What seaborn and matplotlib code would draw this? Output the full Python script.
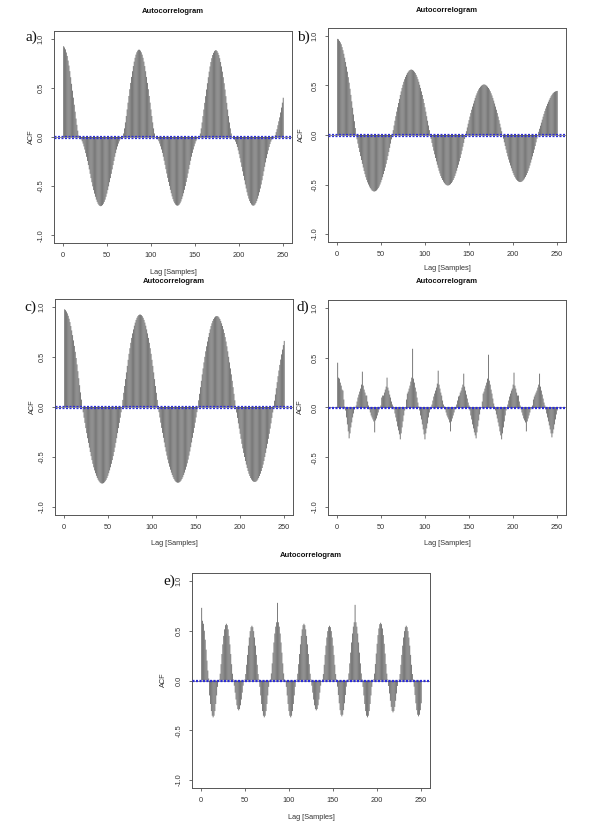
import numpy as np
import pandas as pd
import matplotlib
matplotlib.use("Agg")
import matplotlib.pyplot as plt
import seaborn as sns

# ---------------- data ----------------
panel_labels = ["a)", "b)", "c)", "d)", "e)"]
title_text = "Autocorrelogram"
x_label = "Lag [Samples]"
y_label = "ACF"
x_ticks = [0, 50, 100, 150, 200, 250]
y_ticks = [-1.0, -0.5, 0.0, 0.5, 1.0]
y_tick_labels = ["-1.0", "-0.5", "0.0", "0.5", "1.0"]

acf_a = [
    0.925, 0.912, 0.893, 0.861, 0.826, 0.779, 0.728, 0.671, 0.609, 0.542, 0.472, 0.401, 0.329, 0.258, 0.188, 0.124, 0.065, 0.015,
    -0.003, -0.011, -0.025, -0.044, -0.067, -0.096, -0.128, -0.164, -0.202, -0.244, -0.286, -0.33, -0.375, -0.419, -0.461, -0.503, -0.541, -0.577, -0.609, -0.638, -0.661, -0.68, -0.694, -0.702, -0.705,
    -0.702, -0.694, -0.68, -0.661, -0.638, -0.609, -0.577, -0.541, -0.503, -0.461, -0.419, -0.375, -0.33, -0.286, -0.244, -0.202, -0.164, -0.128, -0.096, -0.067, -0.044, -0.025, -0.011, -0.003,
    0.0,
    0.036, 0.088, 0.149, 0.214, 0.281, 0.35, 0.418, 0.487, 0.551, 0.612, 0.67, 0.723, 0.768, 0.807, 0.839, 0.863, 0.88, 0.889,
    0.889, 0.88, 0.863, 0.839, 0.807, 0.768, 0.723, 0.67, 0.612, 0.551, 0.487, 0.418, 0.35, 0.281, 0.214, 0.149, 0.088, 0.036,
    0.0,
    -0.003, -0.011, -0.025, -0.043, -0.067, -0.095, -0.127, -0.162, -0.201, -0.242, -0.284, -0.328, -0.372, -0.416, -0.458, -0.499, -0.538, -0.573, -0.605, -0.633, -0.657, -0.675, -0.689, -0.697, -0.70,
    -0.697, -0.689, -0.675, -0.657, -0.633, -0.605, -0.573, -0.538, -0.499, -0.458, -0.416, -0.372, -0.328, -0.284, -0.242, -0.201, -0.162, -0.127, -0.095, -0.067, -0.043, -0.025, -0.011, -0.003,
    0.0,
    0.036, 0.088, 0.148, 0.213, 0.28, 0.348, 0.416, 0.484, 0.548, 0.609, 0.666, 0.719, 0.764, 0.803, 0.835, 0.858, 0.875, 0.884,
    0.884, 0.875, 0.858, 0.835, 0.803, 0.764, 0.719, 0.666, 0.609, 0.548, 0.484, 0.416, 0.348, 0.28, 0.213, 0.148, 0.088, 0.036,
    0.0,
    -0.003, -0.012, -0.027, -0.047, -0.072, -0.102, -0.137, -0.175, -0.216, -0.259, -0.304, -0.35, -0.396, -0.441, -0.484, -0.525, -0.563, -0.598, -0.628, -0.653, -0.673, -0.688, -0.697, -0.70,
    -0.697, -0.688, -0.673, -0.653, -0.628, -0.598, -0.563, -0.525, -0.484, -0.441, -0.396, -0.35, -0.304, -0.259, -0.216, -0.175, -0.137, -0.102, -0.072, -0.047, -0.027, -0.012, -0.003,
    0.0,
    0.02, 0.05, 0.08, 0.12, 0.16, 0.2, 0.25, 0.3, 0.35, 0.40,
]

acf_b = [
    0.97, 0.965, 0.95, 0.935, 0.916, 0.887, 0.856, 0.82, 0.78, 0.737, 0.69, 0.639, 0.584, 0.528, 0.467, 0.405, 0.34, 0.275, 0.207, 0.139, 0.07,
    0.0,
    -0.044, -0.087, -0.13, -0.172, -0.213, -0.253, -0.291, -0.328, -0.363, -0.395, -0.426, -0.453, -0.478, -0.50, -0.52, -0.536, -0.549, -0.56, -0.566, -0.57,
    -0.57, -0.566, -0.56, -0.549, -0.536, -0.52, -0.50, -0.478, -0.453, -0.426, -0.395, -0.363, -0.328, -0.291, -0.253, -0.213, -0.172, -0.13, -0.087, -0.044,
    0.0,
    0.049, 0.096, 0.144, 0.19, 0.236, 0.28, 0.323, 0.364, 0.404, 0.44, 0.475, 0.507, 0.537, 0.563, 0.587, 0.607, 0.625, 0.638, 0.649, 0.656, 0.66,
    0.66, 0.656, 0.649, 0.638, 0.625, 0.607, 0.587, 0.563, 0.537, 0.507, 0.475, 0.44, 0.404, 0.364, 0.323, 0.28, 0.236, 0.19, 0.144, 0.096, 0.049,
    0.0,
    -0.04, -0.08, -0.119, -0.158, -0.195, -0.232, -0.266, -0.30, -0.331, -0.361, -0.388, -0.413, -0.435, -0.454, -0.471, -0.485, -0.496, -0.504, -0.508, -0.51,
    -0.508, -0.504, -0.496, -0.485, -0.471, -0.454, -0.435, -0.413, -0.388, -0.361, -0.331, -0.30, -0.266, -0.232, -0.195, -0.158, -0.119, -0.08, -0.04,
    0.0,
    0.038, 0.076, 0.114, 0.15, 0.186, 0.221, 0.255, 0.287, 0.318, 0.347, 0.374, 0.399, 0.421, 0.442, 0.46, 0.475, 0.487, 0.497, 0.504, 0.509, 0.51,
    0.509, 0.504, 0.497, 0.487, 0.475, 0.46, 0.442, 0.421, 0.399, 0.374, 0.347, 0.318, 0.287, 0.255, 0.221, 0.186, 0.15, 0.114, 0.076, 0.038,
    0.0,
    -0.037, -0.074, -0.111, -0.147, -0.182, -0.216, -0.248, -0.279, -0.308, -0.336, -0.361, -0.384, -0.405, -0.423, -0.439, -0.452, -0.462, -0.469, -0.474, -0.475,
    -0.474, -0.469, -0.462, -0.452, -0.439, -0.423, -0.405, -0.384, -0.361, -0.336, -0.308, -0.279, -0.248, -0.216, -0.182, -0.147, -0.111, -0.074, -0.037,
    0.0,
    0.032, 0.063, 0.094, 0.125, 0.155, 0.185, 0.213, 0.241, 0.267, 0.291, 0.315, 0.336, 0.356, 0.374, 0.391, 0.405, 0.418, 0.427, 0.435, 0.44, 0.444, 0.445,
]

acf_c = [
    0.977, 0.969, 0.955, 0.936, 0.912, 0.883, 0.849, 0.81, 0.766, 0.719, 0.666, 0.611, 0.552, 0.49, 0.426, 0.358, 0.288, 0.218, 0.146, 0.074,
    0.0,
    -0.053, -0.107, -0.159, -0.211, -0.261, -0.312, -0.359, -0.406, -0.45, -0.491, -0.531, -0.568, -0.603, -0.634, -0.662, -0.688, -0.71, -0.728, -0.742, -0.753, -0.761, -0.765,
    -0.765, -0.761, -0.753, -0.742, -0.728, -0.71, -0.688, -0.662, -0.634, -0.603, -0.568, -0.531, -0.491, -0.45, -0.406, -0.359, -0.312, -0.261, -0.211, -0.159, -0.107, -0.053,
    0.0,
    0.071, 0.142, 0.21, 0.279, 0.346, 0.411, 0.472, 0.532, 0.588, 0.642, 0.691, 0.736, 0.776, 0.813, 0.844, 0.871, 0.892, 0.908, 0.919, 0.924,
    0.924, 0.919, 0.908, 0.892, 0.871, 0.844, 0.813, 0.776, 0.736, 0.691, 0.642, 0.588, 0.532, 0.472, 0.411, 0.346, 0.279, 0.21, 0.142, 0.071,
    0.0,
    -0.052, -0.105, -0.157, -0.209, -0.259, -0.308, -0.355, -0.402, -0.445, -0.486, -0.526, -0.563, -0.597, -0.627, -0.656, -0.68, -0.702, -0.72, -0.735, -0.746, -0.753, -0.757,
    -0.757, -0.753, -0.746, -0.735, -0.72, -0.702, -0.68, -0.656, -0.627, -0.597, -0.563, -0.526, -0.486, -0.445, -0.402, -0.355, -0.308, -0.259, -0.209, -0.157, -0.105, -0.052,
    0.0,
    0.067, 0.132, 0.198, 0.262, 0.326, 0.386, 0.446, 0.502, 0.557, 0.607, 0.655, 0.699, 0.74, 0.777, 0.81, 0.837, 0.861, 0.88, 0.895, 0.905, 0.909,
    0.909, 0.905, 0.895, 0.88, 0.861, 0.837, 0.81, 0.777, 0.74, 0.699, 0.655, 0.607, 0.557, 0.502, 0.446, 0.386, 0.326, 0.262, 0.198, 0.132, 0.067,
    0.0,
    -0.055, -0.109, -0.164, -0.216, -0.268, -0.318, -0.368, -0.414, -0.459, -0.5, -0.54, -0.576, -0.61, -0.64, -0.667, -0.69, -0.71, -0.726, -0.738, -0.746, -0.749,
    -0.749, -0.746, -0.738, -0.726, -0.71, -0.69, -0.667, -0.64, -0.61, -0.576, -0.54, -0.5, -0.459, -0.414, -0.368, -0.318, -0.268, -0.216, -0.164, -0.109, -0.055,
    0.0,
    0.063, 0.125, 0.188, 0.248, 0.308, 0.365, 0.421, 0.474, 0.526, 0.574, 0.619, 0.661,
]

acf_d = [
    0.45, 0.30, 0.29, 0.25, 0.22, 0.18, 0.17, 0.08, 0.01,
    -0.03, -0.10, -0.17, -0.24, -0.31, -0.26, -0.20, -0.15, -0.10, -0.06, -0.02, 0.00,
    0.02, 0.06, 0.10, 0.13, 0.16, 0.19, 0.23, 0.36, 0.22, 0.18, 0.15, 0.12, 0.12, 0.06, 0.02,
    -0.02, -0.05, -0.08, -0.10, -0.12, -0.14, -0.25, -0.13, -0.11, -0.08, -0.05, -0.02, 0.00,
    0.02, 0.10, 0.12, 0.12, 0.15, 0.18, 0.21, 0.30, 0.20, 0.17, 0.13, 0.10, 0.06, 0.03, 0.01,
    -0.02, -0.06, -0.10, -0.14, -0.19, -0.23, -0.27, -0.32, -0.26, -0.20, -0.14, -0.08, -0.03, 0.00,
    0.08, 0.14, 0.16, 0.19, 0.22, 0.26, 0.30, 0.59, 0.29, 0.25, 0.20, 0.16, 0.10, 0.05, 0.01,
    -0.03, -0.08, -0.12, -0.17, -0.22, -0.27, -0.32, -0.26, -0.21, -0.16, -0.10, -0.05, -0.02, 0.00,
    0.03, 0.07, 0.11, 0.14, 0.17, 0.20, 0.24, 0.37, 0.23, 0.19, 0.15, 0.12, 0.07, 0.03, 0.01,
    -0.02, -0.05, -0.08, -0.10, -0.12, -0.15, -0.24, -0.14, -0.11, -0.08, -0.05, -0.02, 0.00,
    0.03, 0.07, 0.11, 0.12, 0.15, 0.17, 0.20, 0.23, 0.34, 0.21, 0.17, 0.13, 0.09, 0.05, 0.02,
    -0.03, -0.08, -0.12, -0.17, -0.21, -0.25, -0.28, -0.31, -0.25, -0.19, -0.13, -0.07, -0.02, 0.00,
    0.06, 0.14, 0.16, 0.19, 0.22, 0.25, 0.29, 0.53, 0.27, 0.23, 0.18, 0.14, 0.09, 0.04, 0.01,
    -0.03, -0.07, -0.11, -0.15, -0.19, -0.24, -0.28, -0.32, -0.26, -0.20, -0.14, -0.08, -0.03, 0.00,
    0.03, 0.07, 0.11, 0.14, 0.17, 0.19, 0.23, 0.35, 0.22, 0.19, 0.15, 0.12, 0.12, 0.06, 0.02,
    -0.02, -0.05, -0.08, -0.11, -0.13, -0.15, -0.24, -0.14, -0.11, -0.08, -0.05, -0.02, 0.00,
    0.02, 0.08, 0.11, 0.13, 0.15, 0.17, 0.20, 0.23, 0.34, 0.21, 0.17, 0.13, 0.09, 0.05, 0.02,
    -0.02, -0.06, -0.10, -0.14, -0.18, -0.22, -0.26, -0.30, -0.26, -0.22, -0.17, -0.12, -0.07, -0.03,
]

acf_e = [
    0.73, 0.60, 0.57, 0.50, 0.41, 0.31, 0.20, 0.10, 0.02,
    -0.15, -0.236, -0.307, -0.354, -0.37, -0.354, -0.307, -0.236, -0.15, -0.064, 0.0,
    0.01, 0.068, 0.164, 0.266, 0.363, 0.448, 0.514, 0.556, 0.57, 0.556, 0.514, 0.448, 0.363, 0.266, 0.164, 0.068, 0.01,
    -0.052, -0.122, -0.191, -0.249, -0.287, -0.30, -0.287, -0.249, -0.191, -0.122, -0.052, 0.0,
    0.01, 0.065, 0.158, 0.257, 0.35, 0.432, 0.496, 0.536, 0.55, 0.536, 0.496, 0.432, 0.35, 0.257, 0.158, 0.065, 0.01,
    -0.064, -0.15, -0.236, -0.307, -0.354, -0.37, -0.354, -0.307, -0.236, -0.15, -0.064, 0.0,
    0.01, 0.071, 0.172, 0.28, 0.382, 0.472, 0.541, 0.585, 0.78, 0.585, 0.541, 0.472, 0.382, 0.28, 0.172, 0.071, 0.01,
    0.0, -0.064, -0.15, -0.236, -0.307, -0.354, -0.37, -0.354, -0.307, -0.236, -0.15, -0.064, 0.0,
    0.01, 0.068, 0.164, 0.266, 0.363, 0.448, 0.514, 0.556, 0.57, 0.556, 0.514, 0.448, 0.363, 0.266, 0.164, 0.068, 0.01,
    -0.052, -0.122, -0.191, -0.249, -0.287, -0.30, -0.287, -0.249, -0.191, -0.122, -0.052, 0.0,
    0.01, 0.065, 0.158, 0.257, 0.35, 0.432, 0.496, 0.536, 0.55, 0.536, 0.496, 0.432, 0.35, 0.257, 0.158, 0.065, 0.01,
    -0.062, -0.146, -0.229, -0.298, -0.344, -0.36, -0.344, -0.298, -0.229, -0.146, -0.062, 0.0,
    0.01, 0.071, 0.172, 0.28, 0.382, 0.472, 0.541, 0.585, 0.76, 0.585, 0.541, 0.472, 0.382, 0.28, 0.172, 0.071, 0.01,
    -0.064, -0.15, -0.236, -0.307, -0.354, -0.37, -0.354, -0.307, -0.236, -0.15, -0.064, 0.0,
    0.01, 0.069, 0.166, 0.271, 0.369, 0.456, 0.523, 0.566, 0.58, 0.566, 0.523, 0.456, 0.369, 0.271, 0.166, 0.069, 0.01,
    -0.055, -0.13, -0.204, -0.265, -0.306, -0.32, -0.306, -0.265, -0.204, -0.13, -0.055, 0.0,
    0.01, 0.065, 0.158, 0.257, 0.35, 0.432, 0.496, 0.536, 0.55, 0.536, 0.496, 0.432, 0.35, 0.257, 0.158, 0.065, 0.01,
    -0.062, -0.146, -0.229, -0.298, -0.344, -0.36, -0.344, -0.298, -0.229,
]

series = [acf_a, acf_b, acf_c, acf_d, acf_e]

# ---------------- layout (pixel boxes: left, top, right, bottom) ----------------
W, H = 591, 821
boxes = [(54, 31, 292, 243), (328, 28, 566, 242), (55, 299, 293, 515),
         (328, 300, 566, 515), (192, 573, 430, 788)]
title_pos = [(173, 11.5), (447, 10), (174, 281), (447, 281), (311, 555)]
xlab_pos = [(173, 272), (447, 268), (174, 543), (447, 543), (311, 817)]
ylab_pos = [(31.5, 137), (301, 135), (32, 407), (300, 407), (163, 680)]
plab_pos = [(31, 37), (303.5, 37), (30, 307), (302.5, 307.5), (169, 581)]

sns.set_theme(style="ticks")
plt.rcParams["font.family"] = ["Liberation Sans", "DejaVu Sans"]

BAR = "#6c6c6c"
BLUE = "#2b2bd9"
SPINE = "#555555"

fig = plt.figure(figsize=(W / 100, H / 100), dpi=100)
fig.patch.set_facecolor("white")


def fx(x):
    return x / W


def fy(y):
    return 1 - y / H


for i, vals in enumerate(series):
    l, t, r, b = boxes[i]
    ax = fig.add_axes([fx(l), fy(b), (r - l) / W, (b - t) / H])
    df = pd.DataFrame({"lag": np.arange(1, len(vals) + 1), "acf": vals})
    sns.barplot(data=df, x="lag", y="acf", native_scale=True, color=BAR,
                saturation=1, width=1.0, linewidth=0, errorbar=None, ax=ax)
    for p in ax.patches:
        p.set_snap(False)
        p.set_antialiased(True)
    ax.axhline(0, color="#444444", lw=0.4, zorder=3)
    for yy in (0.007, -0.007):
        ax.axhline(yy, color=BLUE, lw=0.9, ls=(0, (1.6, 1.2)), zorder=4)
    ax.set_xlim(-9.96, 259.96)
    ax.set_ylim(-1.08, 1.08)
    ax.set_xticks(x_ticks)
    ax.set_xticklabels([str(v) for v in x_ticks])
    ax.set_yticks(y_ticks)
    ax.set_yticklabels(y_tick_labels, rotation=90, va="center")
    ax.tick_params(length=2.4, width=0.5, pad=4.2, labelsize=5.3,
                   colors="#333333")
    ax.set_xlabel("")
    ax.set_ylabel("")
    for sp in ax.spines.values():
        sp.set_visible(True)
        sp.set_color(SPINE)
        sp.set_linewidth(0.7)
    ax.set_facecolor("white")

    fig.text(fx(title_pos[i][0]), fy(title_pos[i][1]), title_text,
             ha="center", va="center", fontsize=5.5, fontweight="bold",
             color="#111111")
    fig.text(fx(xlab_pos[i][0]), fy(xlab_pos[i][1]), x_label,
             ha="center", va="center", fontsize=5.3, color="#333333")
    fig.text(fx(ylab_pos[i][0]), fy(ylab_pos[i][1]), y_label,
             ha="center", va="center", fontsize=5.3, rotation=90,
             color="#333333")
    fig.text(fx(plab_pos[i][0]), fy(plab_pos[i][1]), panel_labels[i],
             ha="center", va="center", fontsize=11,
             family=["Liberation Serif", "DejaVu Serif"], color="#111111")

fig.savefig("out.png", dpi=100, facecolor="white")
